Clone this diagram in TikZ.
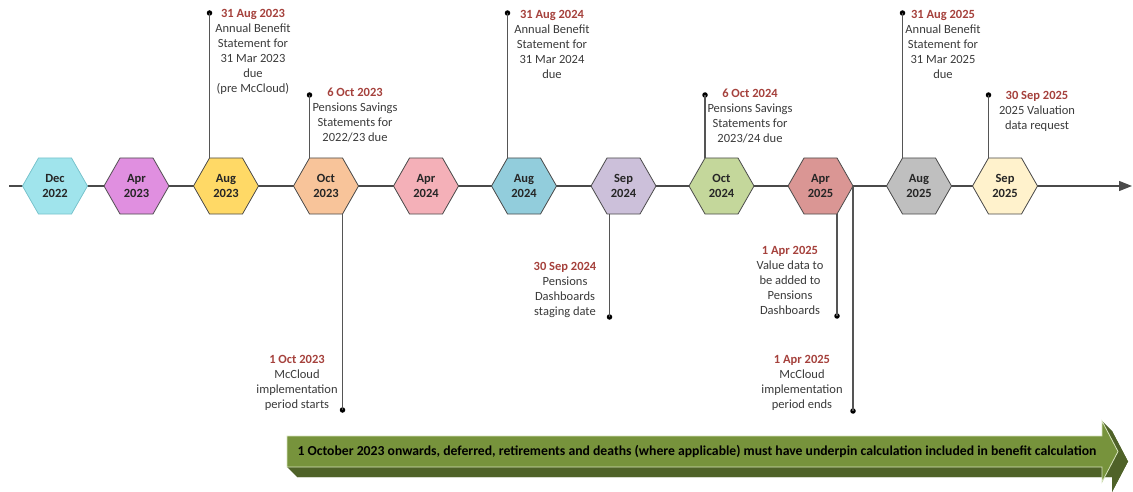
\documentclass[tikz,border=0pt]{standalone}
\usepackage{fontspec}
\setmainfont{Carlito}
\usetikzlibrary{arrows.meta,calc}
\definecolor{datered}{HTML}{A5413C}
\definecolor{bodygray}{HTML}{3A3A3A}
\definecolor{linegray}{HTML}{555555}
\definecolor{hexborder}{HTML}{4A4A4A}
\definecolor{cDec}{HTML}{A0E4EC}
\definecolor{cDecB}{HTML}{78C3CC}
\definecolor{cAprA}{HTML}{E08FE0}
\definecolor{cAugA}{HTML}{FFD966}
\definecolor{cOctA}{HTML}{F8C49A}
\definecolor{cAprB}{HTML}{F4B0B8}
\definecolor{cAugB}{HTML}{92CDDC}
\definecolor{cSepB}{HTML}{CCC0DA}
\definecolor{cOctB}{HTML}{C4D79B}
\definecolor{cAprC}{HTML}{DA9694}
\definecolor{cAugC}{HTML}{BFBFBF}
\definecolor{cSepC}{HTML}{FFF2CC}
\definecolor{arrfront}{HTML}{77933C}
\definecolor{arrdark}{HTML}{4F6228}
\definecolor{arredge}{HTML}{D7E4BD}
\tikzset{
  hexshape/.style={line width=0.8pt},
  hexlabel/.style={align=center, inner sep=0pt, font=\fontsize{12.5}{15}\selectfont\bfseries, text=black!85},
  note/.style={align=center, anchor=north, inner sep=0pt, font=\fontsize{12.5}{15}\selectfont, text=bodygray},
  dot/.style={circle, fill=black, inner sep=0pt, minimum size=5.5pt},
  stem/.style={draw=linegray, line width=1.2pt},
}
\newcommand{\hexa}[5]{%
  \path[hexshape, fill=#3, draw=#4] (#2-32.5,186) -- (#2-16.5,158) -- (#2+16.5,158) -- (#2+32.5,186) -- (#2+16.5,214) -- (#2-16.5,214) -- cycle;
  \coordinate (#1-l) at (#2-32.5,186);
  \coordinate (#1-r) at (#2+32.5,186);
  \coordinate (#1-tl) at (#2-16.5,158);
  \coordinate (#1-tr) at (#2+16.5,158);
  \coordinate (#1-bl) at (#2-16.5,214);
  \coordinate (#1-br) at (#2+16.5,214);
  \node[hexlabel] (#1) at (#2,186) {#5};
}
\newcommand{\dtitle}[1]{\textbf{\color{datered}#1}}
\begin{document}
\begin{tikzpicture}[x=1pt,y=-1pt]
\useasboundingbox (0,0) rectangle (1133,492);
% timeline
\coordinate (tstart) at (9,186);
\coordinate (tend) at (1132,186);
\draw[draw=hexborder, line width=1.2pt, -{Triangle[length=13pt,width=10pt]}] (tstart) -- (tend);
% hexagons
\hexa{h1}{55}{cDec}{cDecB}{Dec\\2022}
\hexa{h2}{136.5}{cAprA}{hexborder}{Apr\\2023}
\hexa{h3}{226}{cAugA}{hexborder}{Aug\\2023}
\hexa{h4}{326}{cOctA}{hexborder}{Oct\\2023}
\hexa{h5}{426}{cAprB}{hexborder}{Apr\\2024}
\hexa{h6}{524}{cAugB}{hexborder}{Aug\\2024}
\hexa{h7}{623.5}{cSepB}{hexborder}{Sep\\2024}
\hexa{h8}{721.5}{cOctB}{hexborder}{Oct\\2024}
\hexa{h9}{820.5}{cAprC}{hexborder}{Apr\\2025}
\hexa{h10}{919}{cAugC}{hexborder}{Aug\\2025}
\hexa{h11}{1005}{cSepC}{hexborder}{Sep\\2025}
\coordinate (s5) at ($(h7-bl)+(2.5,0)$);
% dots
\node[dot] (d1) at (h3-tl |- 0,13) {};
\node[dot] (d2) at (h4-tl |- 0,95) {};
\node[dot] (d3) at (h4-br |- 0,410) {};
\node[dot] (d4) at (h6-tl |- 0,13) {};
\node[dot] (d5) at (s5 |- 0,317) {};
\node[dot] (d6) at (h8-tl |- 0,95) {};
\node[dot] (d7) at (h9-br |- 0,316) {};
\node[dot] (d8) at (h9-r |- 0,411) {};
\node[dot] (d9) at (h10-tl |- 0,13) {};
\node[dot] (d10) at (h11-tl |- 0,95) {};
% stems
\draw[stem] (d1.center) -- (h3-tl);
\draw[stem] (d2.center) -- (h4-tl);
\draw[stem] (h4-br) -- (d3.center);
\draw[stem] (d4.center) -- (h6-tl);
\draw[stem] (s5) -- (d5.center);
\draw[stem] (d6.center) -- (h8-tl);
\draw[stem] (h9-br) -- (d7.center);
\draw[stem] (h9-r) -- (d8.center);
\draw[stem] (d9.center) -- (h10-tl);
\draw[stem] (d10.center) -- (h11-tl);
% notes
\node[note] (n1) at (253,7) {\strut\dtitle{31 Aug 2023}\\Annual Benefit\\Statement for\\31 Mar 2023\\due\\(pre McCloud)};
\node[note] (n2) at (355,86) {\strut\dtitle{6 Oct 2023}\\Pensions Savings\\Statements for\\2022/23 due};
\node[note] (n3) at (297,353) {\strut\dtitle{1 Oct 2023}\\McCloud\\implementation\\period starts};
\node[note] (n4) at (552,8) {\strut\dtitle{31 Aug 2024}\\Annual Benefit\\Statement for\\31 Mar 2024\\due};
\node[note] (n5) at (565,260) {\strut\dtitle{30 Sep 2024}\\Pensions\\Dashboards\\staging date};
\node[note] (n6) at (750,87) {\strut\dtitle{6 Oct 2024}\\Pensions Savings\\Statements for\\2023/24 due};
\node[note] (n7) at (790,244) {\strut\dtitle{1 Apr 2025}\\Value data to\\be added to\\Pensions\\Dashboards};
\node[note] (n8) at (802,353) {\strut\dtitle{1 Apr 2025}\\McCloud\\implementation\\period ends};
\node[note] (n9) at (943,8) {\strut\dtitle{31 Aug 2025}\\Annual Benefit\\Statement for\\31 Mar 2025\\due};
\node[note] (n10) at (1037,89) {\strut\dtitle{30 Sep 2025}\\2025 Valuation\\data request};
% 3D arrow
\begin{scope}[shift={(10,10)}]
  \fill[arrdark] (287,436) -- (1102,436) -- (1102,421) -- (1118,451.5) -- (1102,482) -- (1102,467) -- (287,467) -- cycle;
\end{scope}
\fill[arrdark] (287,467) -- (297,477) -- (1112,477) -- (1112,492) -- (1128,461.5) -- (1118,451.5) -- (1102,482) -- (1102,467) -- cycle;
\fill[arrdark] (1102,421) -- (1112,431) -- (1128,461.5) -- (1118,451.5) -- cycle;
\fill[arrfront, draw=arredge, line width=0.8pt] (287,436) -- (1102,436) -- (1102,421) -- (1118,451.5) -- (1102,482) -- (1102,467) -- (287,467) -- cycle;
\node[font=\fontsize{13.7}{16}\selectfont\bfseries, text=black, inner sep=0pt] (arrtext) at (697,451.5) {1 October 2023 onwards, deferred, retirements and deaths (where applicable) must have underpin calculation included in benefit calculation};
\end{tikzpicture}
\end{document}
